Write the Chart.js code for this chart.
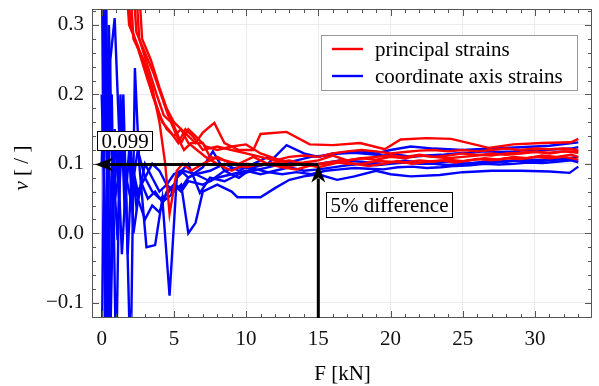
<!DOCTYPE html>
<html>
<head>
<meta charset="utf-8">
<script src="https://cdn.jsdelivr.net/npm/chart.js@4.4.1/dist/chart.umd.min.js"></script>
<style>
  html, body { margin: 0; padding: 0; background: #fff; }
  #wrap { width: 599px; height: 386px; }
</style>
</head>
<body>
<div id="wrap"><canvas id="nu-chart" width="599" height="386"></canvas></div>
<script>
// Poisson ratio vs. load, [F kN, nu] pairs per measurement
const principal1 = [[1.4,0.45],[1.9,0.30],[2.5,0.27],[3,0.24],[3.5,0.2],[4,0.17],[4.5,0.15],[5,0.14],[5.5,0.15],[6,0.14],[6.5,0.13],[7,0.145],[7.8,0.159],[8.5,0.13],[9.5,0.12],[10.5,0.12],[11,0.143],[12.8,0.146],[14.4,0.128],[16,0.127],[17.9,0.13],[19.6,0.121],[20.7,0.135],[22.5,0.137],[24.2,0.136],[26.8,0.123],[28.5,0.128],[30.5,0.13],[32.5,0.131],[33,0.136]];
const principal2 = [[1.5,0.45],[2.0,0.30],[2.6,0.26],[3.2,0.22],[3.7,0.19],[4.2,0.16],[4.8,0.145],[5.3,0.13],[5.8,0.15],[6.3,0.14],[7,0.12],[8,0.125],[9,0.12],[10,0.115],[11,0.11],[12,0.105],[13,0.11],[14,0.112],[15,0.11],[16,0.115],[17,0.118],[18,0.12],[19,0.118],[20,0.115],[21,0.117],[22,0.119],[23,0.12],[24,0.118],[25,0.12],[26,0.118],[27,0.12],[28,0.122],[29,0.12],[30,0.122],[31,0.121],[32,0.122],[33,0.12]];
const principal3 = [[1.7,0.45],[2.2,0.28],[2.9,0.25],[3.5,0.21],[4,0.16],[4.4,0.1],[4.7,0.028],[5.2,0.09],[5.6,0.1],[6.2,0.09],[7,0.1],[8,0.11],[9,0.1],[10,0.095],[11,0.1],[12,0.098],[13,0.097],[14,0.1],[15,0.1],[16,0.103],[17,0.1],[18,0.1],[19,0.104],[20,0.103],[21,0.102],[22,0.105],[23,0.103],[24,0.106],[25,0.104],[26,0.107],[27,0.105],[28,0.108],[29,0.107],[30,0.11],[31,0.108],[32,0.11],[33,0.106]];
const principal4 = [[1.9,0.45],[2.4,0.29],[3.0,0.26],[3.6,0.23],[4.1,0.2],[4.6,0.17],[5,0.155],[5.5,0.13],[6,0.15],[6.5,0.14],[7.2,0.125],[8,0.12],[9,0.125],[10,0.128],[11,0.115],[12,0.108],[13,0.1],[14,0.102],[15,0.105],[16,0.112],[17,0.105],[18,0.108],[19,0.11],[20,0.112],[21,0.11],[22,0.113],[23,0.11],[24,0.112],[25,0.115],[26,0.113],[27,0.112],[28,0.115],[29,0.116],[30,0.118],[31,0.115],[32,0.118],[33,0.116]];
const principal5 = [[2.1,0.45],[2.6,0.28],[3.2,0.24],[3.8,0.2],[4.3,0.17],[4.8,0.16],[5.2,0.14],[5.7,0.12],[6.2,0.13],[7,0.13],[7.5,0.11],[8.5,0.105],[9.5,0.1],[10.5,0.11],[11.5,0.1],[12.5,0.095],[13.5,0.092],[14.5,0.098],[15.5,0.1],[16.5,0.105],[17.5,0.1],[18.5,0.097],[19.5,0.1],[20.5,0.104],[21.5,0.1],[22.5,0.103],[23.5,0.105],[24.5,0.102],[25.5,0.105],[26.5,0.108],[27.5,0.106],[28.5,0.11],[29.5,0.108],[30.5,0.112],[31.5,0.11],[32.5,0.113],[33,0.11]];
const principal6 = [[2.3,0.45],[2.8,0.28],[3.4,0.25],[4,0.21],[4.5,0.18],[5,0.16],[5.5,0.15],[6,0.13],[6.6,0.12],[7.2,0.11],[8,0.1],[9,0.09],[10,0.1],[11,0.098],[12,0.102],[13,0.105],[14,0.1],[15,0.095],[16,0.1],[17,0.105],[18,0.108],[19,0.106],[20,0.11],[21,0.108],[22,0.112],[23,0.11],[24,0.108],[25,0.11],[26,0.112],[27,0.115],[28,0.113],[29,0.115],[30,0.117],[31,0.116],[32,0.118],[33,0.118]];

const coord1 = [[0,0.4],[0.3,-0.2],[0.6,0.25],[0.9,0.31],[1.2,0.15],[1.5,0.1],[2,0.05],[2.5,0.12],[3,0.08],[3.5,0.1],[4,0.09],[4.5,0.07],[5,0.085],[5.5,0.09],[6,0.08],[7,0.095],[7.7,0.118],[8.5,0.09],[9.5,0.08],[10.5,0.095],[11.5,0.1],[12.8,0.127],[14,0.115],[15,0.11],[16,0.115],[17.9,0.118],[19,0.115],[20,0.12],[21.4,0.125],[23,0.122],[25,0.12],[27,0.122],[29,0.124],[31,0.126],[33,0.131]];
const coord2 = [[0,-0.2],[0.3,0.4],[0.5,-0.2],[0.8,0.1],[1.1,-0.01],[1.4,0.15],[1.7,0.05],[2,-0.2],[2.3,0.238],[2.6,0.1],[3.1,-0.02],[3.7,-0.017],[4.2,0.05],[4.7,-0.09],[5.2,0.08],[5.7,0.09],[6.5,0.085],[7.5,0.09],[8.5,0.1],[9.5,0.09],[10.5,0.1],[11.5,0.11],[12.5,0.105],[13.5,0.1],[15,0.1],[16.5,0.105],[18,0.103],[19.5,0.1],[21,0.105],[22.5,0.1],[24,0.103],[25.5,0.1],[27,0.102],[28.5,0.105],[30,0.103],[31.5,0.107],[33,0.105]];
const coord3 = [[0.1,0.35],[0.4,0.05],[0.7,0.2],[1.0,-0.2],[1.3,0.2],[1.6,0.03],[1.9,0.12],[2.2,0.0],[2.6,0.06],[3.0,0.1],[3.5,0.08],[4,0.06],[4.5,0.07],[5,0.06],[5.5,0.07],[6,0.0],[6.5,0.015],[7,0.06],[8,0.07],[9,0.06],[9.4,0.052],[11,0.052],[12,0.065],[13,0.077],[14,0.082],[15,0.085],[16.3,0.077],[17.5,0.082],[19,0.09],[20,0.085],[21.4,0.082],[23.4,0.084],[25,0.088],[27,0.09],[29,0.09],[31,0.089],[32.4,0.087],[33,0.096]];
const coord4 = [[0,0.1],[0.3,0.3],[0.6,-0.15],[0.9,0.15],[1.2,0.05],[1.5,0.2],[1.8,-0.03],[2.1,0.1],[2.5,0.05],[3,0.02],[3.5,0.04],[4,0.03],[4.5,0.06],[5,0.07],[5.5,0.06],[6,0.075],[7,0.07],[8,0.08],[9,0.085],[10,0.09],[11,0.085],[12,0.09],[13,0.095],[14,0.09],[15,0.092],[16,0.095],[17,0.098],[18,0.1],[19,0.098],[20,0.1],[21,0.102],[22,0.1],[23,0.1],[24,0.098],[25,0.1],[26,0.102],[27,0.104],[28,0.103],[29,0.105],[30,0.106],[31,0.105],[32,0.107],[33,0.11]];
const coord5 = [[0.2,-0.2],[0.5,0.3],[0.8,0.05],[1.1,0.12],[1.4,-0.03],[1.7,0.08],[2,0.12],[2.4,0.04],[2.8,0.07],[3.2,0.05],[3.7,0.06],[4.2,0.045],[4.8,0.055],[5.3,0.085],[6,0.1],[6.8,0.058],[7.5,0.08],[8.5,0.075],[9.5,0.085],[10.5,0.09],[11.5,0.095],[12.5,0.1],[13.5,0.105],[14.5,0.11],[15.5,0.112],[16.5,0.115],[17.5,0.116],[18.5,0.114],[19.5,0.112],[20.5,0.113],[21.5,0.11],[22.5,0.112],[23.5,0.113],[24.5,0.115],[25.5,0.116],[26.5,0.118],[27.5,0.117],[28.5,0.118],[29.5,0.12],[30.5,0.12],[31.5,0.121],[32.5,0.122],[33,0.124]];
const coord6 = [[0,0.2],[0.4,-0.1],[0.7,0.1],[1,0.06],[1.3,0.1],[1.6,0.09],[2,0.11],[2.5,0.06],[3,0.08],[3.5,0.06],[4,0.05],[4.5,0.055],[5,0.07],[5.5,0.065],[6,0.08],[6.5,0.085],[7.5,0.075],[8.5,0.09],[9.5,0.095],[10.5,0.093],[11.5,0.088],[12.5,0.085],[13.5,0.088],[14.5,0.085],[15.5,0.09],[16.5,0.092],[17.5,0.094],[18.5,0.093],[19.5,0.092],[20.5,0.095],[21.5,0.096],[22.5,0.094],[23.5,0.095],[24.5,0.097],[25.5,0.098],[26.5,0.1],[27.5,0.099],[28.5,0.1],[29.5,0.102],[30.5,0.101],[31.5,0.103],[32.5,0.105],[33,0.102]];

const principalSeries = [principal1, principal2, principal3, principal4, principal5, principal6];
const coordSeries = [coord1, coord2, coord3, coord4, coord5, coord6];

const xTicks = [0, 5, 10, 15, 20, 25, 30];
const yTicks = [-0.1, 0.0, 0.1, 0.2, 0.3];
const xRange = [-0.67, 33.95];
const yRange = [-0.122, 0.323];

// converged value and the load where it is reached
const refNu = 0.099;
const refLoad = 15;

const RED = '#ff0000';
const BLUE = '#0000ff';
const FONT = '"Liberation Serif", "Times New Roman", serif';
const FONT_SIZE = 21;

const toPoints = (arr) => arr.map(([x, y]) => ({ x, y }));

const datasets = [];
principalSeries.forEach((s) => {
  datasets.push({ label: 'principal strains', data: toPoints(s), borderColor: RED, borderWidth: 2.4 });
});
coordSeries.forEach((s) => {
  datasets.push({ label: 'coordinate axis strains', data: toPoints(s), borderColor: BLUE, borderWidth: 2.4 });
});

function arrowHead(ctx, tipX, tipY, dx, dy) {
  const len = 18, half = 7, notch = 5;
  const nx = -dy, ny = dx;
  const bx = tipX - dx * len, by = tipY - dy * len;
  ctx.beginPath();
  ctx.moveTo(tipX, tipY);
  ctx.lineTo(bx + nx * half, by + ny * half);
  ctx.lineTo(tipX - dx * (len - notch), tipY - dy * (len - notch));
  ctx.lineTo(bx - nx * half, by - ny * half);
  ctx.closePath();
  ctx.fill();
}

function boxedText(ctx, text, left, top, h) {
  ctx.font = FONT_SIZE + 'px ' + FONT;
  const w = Math.round(ctx.measureText(text).width + 8);
  left = Math.round(left);
  top = Math.round(top);
  ctx.fillStyle = '#fff';
  ctx.fillRect(left, top, w, h);
  ctx.strokeStyle = '#000';
  ctx.lineWidth = 1;
  ctx.strokeRect(left + 0.5, top + 0.5, w, h);
  ctx.fillStyle = '#000';
  ctx.textAlign = 'left';
  ctx.textBaseline = 'middle';
  ctx.fillText(text, left + 4.5, top + h / 2 + 1.5);
}

// frame with inward ticks, arrows, labels, legend and axis titles
const decorations = {
  id: 'decorations',
  afterDatasetsDraw(chart) {
    const ctx = chart.ctx;
    const a = chart.chartArea;
    const xs = chart.scales.x, ys = chart.scales.y;
    ctx.save();

    // frame
    ctx.strokeStyle = '#555';
    ctx.lineWidth = 1;
    ctx.strokeRect(a.left + 0.5, a.top + 0.5, a.right - a.left - 1, a.bottom - a.top - 1);

    ctx.beginPath();
    for (let v = 0; v <= 33; v++) {
      const px = Math.round(xs.getPixelForValue(v)) + 0.5;
      const len = v % 5 === 0 ? 7 : 4;
      ctx.moveTo(px, a.bottom); ctx.lineTo(px, a.bottom - len);
      ctx.moveTo(px, a.top); ctx.lineTo(px, a.top + len);
    }
    for (let i = -6; i <= 16; i++) {
      const py = Math.round(ys.getPixelForValue(i * 0.02)) + 0.5;
      const len = i % 5 === 0 ? 7 : 4;
      ctx.moveTo(a.left, py); ctx.lineTo(a.left + len, py);
      ctx.moveTo(a.right, py); ctx.lineTo(a.right - len, py);
    }
    ctx.stroke();

    // arrows marking the converged value
    const ax = xs.getPixelForValue(refLoad);
    const ay = ys.getPixelForValue(refNu);
    const tipX = xs.getPixelForValue(-0.45);
    ctx.fillStyle = '#000';
    ctx.strokeStyle = '#000';
    ctx.lineWidth = 3;
    ctx.beginPath();
    ctx.moveTo(ax, ay);
    ctx.lineTo(tipX + 14, ay);
    ctx.moveTo(ax, a.bottom);
    ctx.lineTo(ax, ay + 14);
    ctx.stroke();
    arrowHead(ctx, tipX, ay, -1, 0);
    arrowHead(ctx, ax, ay, 0, -1);

    boxedText(ctx, refNu.toFixed(3), xs.getPixelForValue(-0.35), ys.getPixelForValue(0.147), 19);
    boxedText(ctx, '5% difference', xs.getPixelForValue(15.5), ys.getPixelForValue(0.059), 25);

    // legend
    const lx = a.left + 229, ly = a.top + 26;
    ctx.fillStyle = '#fff';
    ctx.fillRect(lx, ly, 256, 55);
    ctx.strokeStyle = '#999';
    ctx.lineWidth = 1;
    ctx.strokeRect(lx + 0.5, ly + 0.5, 256, 55);
    ctx.font = FONT_SIZE + 'px ' + FONT;
    ctx.textBaseline = 'middle';
    ctx.textAlign = 'left';
    [[RED, 'principal strains'], [BLUE, 'coordinate axis strains']].forEach(([c, t], i) => {
      const y = ly + 14 + i * 27;
      ctx.strokeStyle = c;
      ctx.lineWidth = 2.4;
      ctx.beginPath();
      ctx.moveTo(lx + 11, y); ctx.lineTo(lx + 42, y);
      ctx.stroke();
      ctx.fillStyle = '#000';
      ctx.fillText(t, lx + 54, y + 1);
    });

    // axis titles
    ctx.fillStyle = '#000';
    ctx.textAlign = 'center';
    ctx.fillText('F [kN]', (a.left + a.right) / 2 + 0.5, 374);

    ctx.translate(22, 168);
    ctx.rotate(-Math.PI / 2);
    ctx.font = 'italic ' + FONT_SIZE + 'px ' + FONT;
    const w1 = ctx.measureText('ν').width;
    ctx.font = FONT_SIZE + 'px ' + FONT;
    const w2 = ctx.measureText(' [ / ]').width;
    ctx.textAlign = 'left';
    ctx.font = 'italic ' + FONT_SIZE + 'px ' + FONT;
    ctx.fillText('ν', -(w1 + w2) / 2, 0);
    ctx.font = FONT_SIZE + 'px ' + FONT;
    ctx.fillText(' [ / ]', -(w1 + w2) / 2 + w1, 0);

    ctx.restore();
  }
};

const gridColor = (c) => (c.tick && c.tick.value === 0 ? '#c4c4c4' : '#ececec');

// fixed axis boxes so the plot frame lands where it should
const fitX = (s) => { s.height = 68; s.paddingLeft = 0; s.paddingRight = 0; };
const fitY = (s) => { s.width = 92; s.paddingTop = 0; s.paddingBottom = 0; };

new Chart(document.getElementById('nu-chart'), {
  type: 'scatter',
  data: { datasets },
  options: {
    responsive: false,
    animation: false,
    devicePixelRatio: 1,
    layout: { padding: { top: 9, right: 7, left: 0, bottom: 0 } },
    elements: {
      point: { radius: 0 },
      line: { tension: 0, borderJoinStyle: 'miter' }
    },
    datasets: { scatter: { showLine: true } },
    plugins: {
      legend: { display: false },
      tooltip: { enabled: false }
    },
    scales: {
      x: {
        type: 'linear',
        min: xRange[0],
        max: xRange[1],
        afterBuildTicks: (s) => { s.ticks = xTicks.map((v) => ({ value: v })); },
        afterFit: fitX,
        grid: { color: gridColor, drawTicks: false, lineWidth: 1 },
        border: { display: false },
        ticks: {
          color: '#111',
          font: { family: FONT, size: FONT_SIZE },
          padding: 9,
          maxRotation: 0,
          callback: (v) => String(v)
        }
      },
      y: {
        type: 'linear',
        min: yRange[0],
        max: yRange[1],
        afterBuildTicks: (s) => { s.ticks = yTicks.map((v) => ({ value: v })); },
        afterFit: fitY,
        grid: { color: gridColor, drawTicks: false, lineWidth: 1 },
        border: { display: false },
        ticks: {
          color: '#111',
          font: { family: FONT, size: FONT_SIZE },
          padding: 8,
          callback: (v) => v.toFixed(1).replace('-', '\u2212')
        }
      }
    }
  },
  plugins: [decorations]
});
</script>
</body>
</html>
